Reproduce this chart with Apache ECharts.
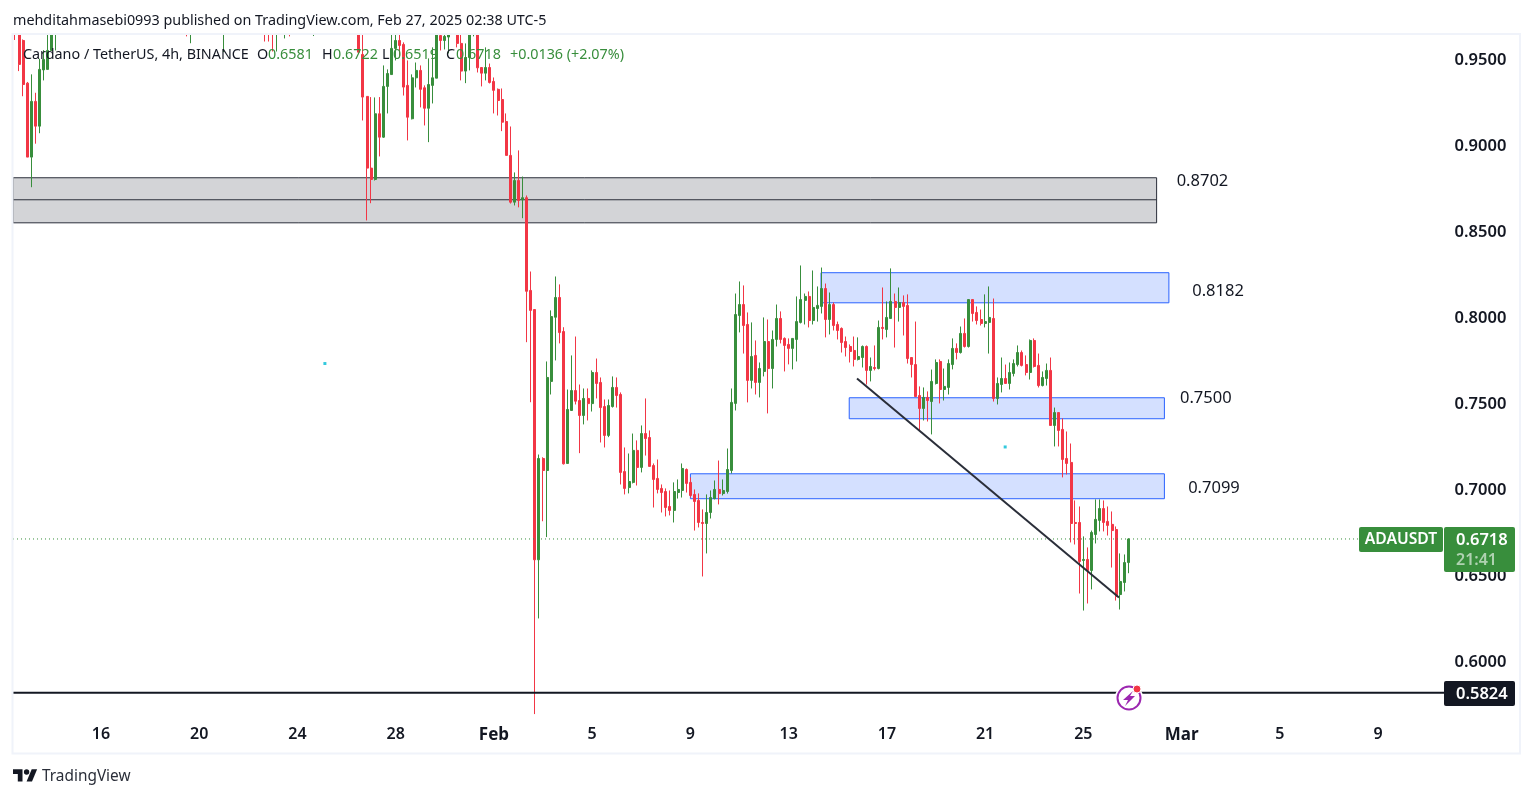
<!DOCTYPE html>
<html>
<head>
<meta charset="utf-8">
<title>ADAUSDT 4h</title>
<script src="https://cdn.jsdelivr.net/npm/echarts@6/dist/echarts.min.js"></script>
<style>
  html, body { margin: 0; padding: 0; background: #fff; }
  #chart { width: 1533px; height: 798px; }
</style>
</head>
<body>
<div id="chart"></div>
<script>
// slots off the top of the price scale are left empty
const gap = n => Array(n).fill(null)

const opens = [
  .98, .97, .9616, .9368, .8938, .9262, .9118, .9445, .9448, .9558, .972, ...gap(31),
  .98, .975, ...gap(7), .985, ...gap(9), .985, .98, .985, .975, ...gap(1), .975, .985, ...gap(5), .975, ...gap(10),
  .98, .9535, .9291, .8874, .8808, .9190, .9054, .9349, .9418, .9570, .9616, .9593, .9355, .9161, .9399, .9442,
  .9341, .9222, .9355, .9397, .9645, .9616, .9636, .97, .97, .9599, .9438, .9517, .9651, .97, .9459, .9426,
  .9459, .9378, .9332, .9273, .9145, .8948, .8676, .8802, .8690, .8702, .8163, .8052, .6597, .7186, .7116, .7634,
  .8007, .8122, .7924, .7157, .7465, .7581, .7523, .7436, .7535, .7505, .7686, .7628, .7488, .7320, .7488, .7599,
  .7558, .7110, .7017, .7047, .7233, .7134, .7331, .7308, .7145, .7070, .7012, .6994, .6907, .6884, .6988, .7000,
  .7122, .7047, .6977, .6942, .6814, .6808, .6872, .6953, .7006, .6982, .6994, .7116, .7506, .8017, .8081, .7965,
  .7640, .7785, .7628, .7692, .7866, .7709, .7878, .8000, .7884, .7849, .7826, .7878, .7977, .8105, .8128, .7988,
  .8058, .8070, .8174, .7994, .8081, .7965, .7942, .7866, .7837, .7814, .7762, .7773, .7837, .7698, .7715, .7709,
  .7948, .7936, .8000, .8099, .8064, .8093, .8076, .7773, .7732, .7552, .7477, .7541, .7517, .7622, .7750, .7587,
  .7599, .7732, .7826, .7802, .7913, .7837, .8110, .8035, .7994, .7971, .7977, .8000, .7535, .7616, .7651, .7622,
  .7680, .7732, .7802, .7732, .7686, .7872, .7727, .7610, .7651, .7698, .7378, .7453, .7355, .7186, .7163, .6814,
  .6814, .6593, .6599, .6535, .6744, .6826, .6895, .6820, .6803, .6773, .6395, .6465, .6581
]
const closes = [
  .97, .9477, .9360, .8938, .9262, .9118, .9448, .9506, .9558, .972, .98, ...gap(31),
  .975, .985, ...gap(7), .99, ...gap(9), .975, .975, .975, .985, ...gap(1), .985, .975, ...gap(5), .985, ...gap(10),
  .9548, .9287, .8874, .8808, .9190, .9054, .9349, .9424, .9570, .9616, .9587, .9345, .9170, .9399, .9442, .9332,
  .9222, .9360, .9399, .9657, .9616, .9640, .9651, .975, .9599, .9438, .9517, .9651, .97, .9457, .9426, .9459,
  .9372, .9326, .9267, .9141, .8948, .8676, .8802, .8686, .8702, .8158, .8047, .6597, .7186, .7116, .7657, .8011,
  .8122, .7918, .7155, .7471, .7581, .7519, .7436, .7535, .7505, .7686, .7622, .7482, .7320, .7494, .7599, .7552,
  .7105, .7012, .7052, .7233, .7134, .7331, .7302, .7140, .7064, .7006, .6988, .6901, .6884, .6994, .7006, .7128,
  .7041, .6971, .6936, .6814, .6808, .6872, .6959, .7006, .6982, .7000, .7122, .7512, .8023, .8081, .7959, .7640,
  .7779, .7628, .7709, .7866, .7709, .7878, .8000, .7878, .7843, .7826, .7884, .7982, .8110, .8128, .7988, .8064,
  .8076, .8174, .7994, .8081, .7959, .7930, .7860, .7831, .7808, .7762, .7779, .7837, .7698, .7721, .7709, .7948,
  .7942, .8006, .8099, .8064, .8093, .8070, .7767, .7732, .7546, .7477, .7541, .7523, .7634, .7744, .7587, .7605,
  .7738, .7826, .7802, .7913, .7837, .8110, .8029, .7988, .7971, .7982, .8006, .7535, .7622, .7651, .7622, .7686,
  .7738, .7802, .7727, .7686, .7872, .7721, .7610, .7657, .7698, .7378, .7453, .7349, .7180, .7157, .6808, .6808,
  .6587, .6599, .6535, .6756, .6832, .6895, .6814, .6797, .6767, .6384, .6471, .6581, .6718
]
const lows = [
  .9619, .9438, .9292, .8938, .8763, .9016, .9077, .9384, .9448, .9558, .9558, ...gap(31),
  .9640, .9600, ...gap(7), .9548, ...gap(9), .9610, .9610, .9552, .9552, ...gap(1), .9628, .9640, ...gap(5), .9642, ...gap(10),
  .9548, .9151, .8570, .8670, .8802, .8942, .9050, .9192, .9418, .95, .9518, .9296, .9035, .9157, .9343, .9227,
  .9122, .9025, .9250, .9397, .9558, .9564, .9541, .966, .9576, .9384, .9368, .9442, .9640, .9430, .9349, .9384,
  .9366, .9192, .9180, .9089, .8948, .8668, .8657, .8646, .8583, .7862, .7513, .5700, .6256, .6821, .6729, .7558,
  .7756, .7855, .7151, .7157, .7465, .7500, .7217, .7384, .7407, .7459, .7535, .7279, .7250, .7310, .7482, .7482,
  .7035, .6977, .6983, .7041, .7029, .7105, .7203, .7140, .6901, .6983, .6872, .6849, .6855, .6814, .6953, .6959,
  .6988, .6959, .6767, .6785, .6500, .6634, .6837, .6948, .6919, .6971, .6982, .7099, .7465, .7919, .7796, .7512,
  .7593, .7558, .7541, .7663, .7448, .7593, .7837, .7855, .7692, .7733, .7704, .7750, .7971, .7965, .7948, .7965,
  .7982, .8029, .7890, .7907, .7930, .7878, .7802, .7779, .7744, .7721, .7756, .7715, .7616, .7634, .7698, .7704,
  .7878, .7890, .8000, .7831, .7982, .7901, .7738, .7657, .7546, .7349, .7407, .7401, .7326, .7616, .7506, .7523,
  .7558, .7704, .7762, .7796, .7831, .7831, .7982, .7965, .7959, .7948, .7796, .7517, .7500, .7570, .7622, .7587,
  .7663, .7721, .7721, .7669, .7645, .7715, .7599, .7605, .7610, .7378, .7256, .7256, .7076, .7093, .6698, .6686,
  .6401, .6302, .6343, .6425, .6692, .6762, .6762, .6738, .6552, .6360, .6308, .6413, .6519
]
const highs = [
  .985, .98, .9622, .9375, .9419, .9312, .951, .956, .966, .98, .985, ...gap(31),
  .985, .99, ...gap(7), .995, ...gap(9), .99, .985, .99, .99, ...gap(1), .99, .99, ...gap(5), .99, ...gap(10),
  .985, .97, .9291, .9287, .9285, .9287, .9471, .9448, .975, .975, .975, .9605, .95, .9419, .9488, .9471,
  .9355, .9512, .9576, .975, .97, .97, .97, .98, .975, .965, .9599, .975, .975, .975, .9459, .9576,
  .9482, .9401, .9337, .9337, .9192, .9116, .8849, .8977, .8825, .8715, .8273, .8052, .7209, .7193, .7750, .8047,
  .8244, .8198, .7949, .7587, .7785, .7895, .7616, .7593, .7593, .7698, .7767, .7657, .7529, .7529, .7663, .7657,
  .7570, .7250, .7215, .7331, .7291, .7378, .7535, .7349, .7157, .7180, .7035, .7012, .7000, .7047, .7064, .7157,
  .7128, .7076, .7006, .6983, .6890, .6977, .7000, .7058, .7174, .7064, .7244, .7593, .8145, .8215, .8192, .8035,
  .7977, .7872, .7744, .8006, .7994, .7930, .8081, .8041, .7890, .7884, .7884, .8128, .8308, .8145, .8157, .8279,
  .8186, .8296, .8203, .8151, .8093, .7982, .7948, .7895, .7849, .7895, .7890, .7843, .7843, .7773, .7843, .7988,
  .8180, .8099, .8291, .8145, .8180, .8134, .8140, .7773, .7982, .7605, .7599, .7576, .7703, .7762, .7762, .7709,
  .7762, .7884, .7855, .7953, .8000, .8110, .8110, .8070, .8052, .8140, .8186, .8116, .7657, .7773, .7732, .7744,
  .7762, .7843, .7814, .7785, .7878, .7884, .7796, .7692, .7738, .7773, .7482, .7453, .7419, .7343, .7273, .6942,
  .6907, .6733, .6669, .6767, .6948, .6948, .6942, .6907, .6878, .6791, .6634, .6628, .6722
]

const slotCount = 350
const tickSlots = [21, 45, 69, 93, 117, 141, 165, 189, 213, 237, 261, 285, 309, 333]
const tickLabels = ['16', '20', '24', '28', 'Feb', '5', '9', '13', '17', '21', '25', 'Mar', '5', '9']
const priceTicks = [0.6, 0.65, 0.7, 0.75, 0.8, 0.85, 0.9, 0.95]

// drawn zones, x in candle slots, y in price
const zoneStarts = [-0.5, 196.9, 203.8, 165]
const zoneEnds = [278.9, 281.9, 280.8, 280.8]
const zoneTops = [0.8818, 0.8266, 0.7539, 0.7097]
const zoneBottoms = [0.8556, 0.8091, 0.7417, 0.6952]
const zoneMiddles = [0.869, null, null, null]

const levelSlots = [283.8, 287.6, 284.6, 286.6]
const levelPrices = [0.8796, 0.8157, 0.7535, 0.7011]
const levelLabels = ['0.8702', '0.8182', '0.7500', '0.7099']

const trendSlots = [205.7, 269.7]
const trendPrices = [0.7651, 0.6378]

const lastPrice = 0.6718
const lastPriceEndSlot = 328.1
const supportPrice = 0.5824
const dotSlots = [75.7, 241.9]
const dotPrices = [0.7738, 0.7253]

// legend line above the candles
const legendParts = ['Cardano / TetherUS, 4h, BINANCE', 'O', '0.6581', 'H', '0.6722', 'L', '0.6519', 'C', '0.6718', '+0.0136 (+2.07%)']
const legendLefts = [23, 257, 268, 322, 333, 382, 393, 446, 456, 510]

const UP = '#388e3c'
const DOWN = '#f23645'
const TEXT = '#131722'
const FONT = '"Noto Sans", sans-serif'

const categories = Array.from({ length: slotCount }, (_, i) => {
  const at = tickSlots.indexOf(i)
  return at >= 0 ? tickLabels[at] : ''
})
const candles = opens.map((o, i) => [o, closes[i], lows[i], highs[i]])

const renderZone = (params, api) => {
  const i = params.dataIndex
  const tl = api.coord([zoneStarts[i], zoneTops[i]])
  const br = api.coord([zoneEnds[i], zoneBottoms[i]])
  const gray = i === 0
  const children = [{
    type: 'rect',
    shape: { x: tl[0], y: tl[1], width: br[0] - tl[0], height: br[1] - tl[1] },
    style: {
      fill: gray ? '#d3d4d7' : '#d4e0ff',
      stroke: gray ? '#2a2e39' : '#2962ff',
      lineWidth: 1
    }
  }]
  if (zoneMiddles[i] != null) {
    const m = api.coord([zoneStarts[i], zoneMiddles[i]])
    children.push({
      type: 'line',
      shape: { x1: tl[0], y1: m[1], x2: br[0], y2: m[1] },
      style: { stroke: '#2a2e39', lineWidth: 1 }
    })
  }
  return { type: 'group', children }
}

const renderLevel = (params, api) => {
  const i = params.dataIndex
  const p = api.coord([levelSlots[i], levelPrices[i]])
  return {
    type: 'text',
    x: p[0],
    y: p[1],
    style: {
      text: levelLabels[i],
      fill: TEXT,
      font: '16.5px ' + FONT,
      textAlign: 'left',
      textVerticalAlign: 'middle'
    }
  }
}

const tagText = (text, x, y, size, fill, align) => ({
  type: 'text',
  z: 30,
  x,
  y,
  style: {
    text,
    fill,
    font: '600 ' + size + 'px ' + FONT,
    textAlign: align || 'center',
    textVerticalAlign: 'middle'
  }
})
const tagBox = (x, y, width, height, fill) => ({
  type: 'rect',
  z: 29,
  shape: { x, y, width, height, r: 2 },
  style: { fill }
})

const option = {
  animation: false,
  backgroundColor: '#fff',
  textStyle: { fontFamily: FONT },
  grid: { left: 13, top: 35.5, width: 1432.6, height: 681, containLabel: false },
  xAxis: [
    {
      type: 'category',
      data: categories,
      boundaryGap: true,
      axisLine: { show: false },
      axisTick: { show: false },
      splitLine: { show: false },
      axisLabel: {
        interval: 0,
        margin: 10,
        hideOverlap: false,
        color: TEXT,
        fontSize: 16,
        fontWeight: 600,
        fontFamily: FONT,
        formatter: v => (v === 'Feb' || v === 'Mar' ? '{b|' + v + '}' : v),
        rich: { b: { fontSize: 17, fontWeight: 700, color: TEXT, fontFamily: FONT } }
      }
    },
    { type: 'value', min: -0.5, max: slotCount - 0.5, show: false }
  ],
  yAxis: {
    type: 'value',
    position: 'right',
    min: 0.5686,
    max: 0.9645,
    scale: true,
    axisLine: { show: false },
    axisTick: { show: false },
    splitLine: { show: false },
    axisLabel: {
      customValues: priceTicks,
      margin: 9,
      padding: [2, 0, 0, 0],
      color: TEXT,
      fontSize: 16.5,
      fontWeight: 600,
      fontFamily: FONT,
      formatter: v => v.toFixed(4)
    }
  },
  series: [
    {
      type: 'custom',
      name: 'zones',
      xAxisIndex: 1,
      z: 1,
      silent: true,
      renderItem: renderZone,
      data: zoneStarts.map((s, i) => [s, zoneTops[i]]),
      clip: false
    },
    {
      type: 'candlestick',
      name: 'ADAUSDT',
      xAxisIndex: 0,
      z: 2,
      // edges get snapped to half pixels, 2.5 keeps every body the same width
      barWidth: 2.5,
      silent: true,
      itemStyle: {
        color: UP,
        color0: DOWN,
        borderColor: UP,
        borderColor0: DOWN,
        borderWidth: 1
      },
      data: candles
    },
    {
      type: 'line',
      name: 'last price',
      xAxisIndex: 1,
      z: 3,
      silent: true,
      showSymbol: false,
      lineStyle: { color: UP, width: 1, type: [1, 3] },
      data: [[-0.5, lastPrice], [lastPriceEndSlot, lastPrice]]
    },
    {
      type: 'line',
      name: 'support',
      xAxisIndex: 1,
      z: 3,
      silent: true,
      showSymbol: false,
      lineStyle: { color: TEXT, width: 2 },
      data: [[-0.5, supportPrice], [slotCount - 0.5, supportPrice]]
    },
    {
      type: 'line',
      name: 'trend',
      xAxisIndex: 1,
      z: 4,
      silent: true,
      showSymbol: false,
      lineStyle: { color: '#2a2e39', width: 2 },
      data: trendSlots.map((s, i) => [s, trendPrices[i]])
    },
    {
      type: 'scatter',
      name: 'dots',
      xAxisIndex: 1,
      z: 4,
      silent: true,
      symbol: 'rect',
      symbolSize: 3,
      itemStyle: { color: '#00bcd4' },
      data: dotSlots.map((s, i) => [s, dotPrices[i]])
    },
    {
      type: 'custom',
      name: 'levels',
      xAxisIndex: 1,
      z: 5,
      silent: true,
      renderItem: renderLevel,
      data: levelSlots.map((s, i) => [s, levelPrices[i]]),
      clip: false
    }
  ],
  graphic: [
    // candles running off the top of the scale stop at the panel edge
    { type: 'rect', z: 25, shape: { x: 0, y: 0, width: 1533, height: 34 }, style: { fill: '#fff' } },
    {
      type: 'rect',
      z: 26,
      shape: { x: 12.5, y: 34, width: 1507.5, height: 719.5 },
      style: { fill: 'none', stroke: '#f0f3fa', lineWidth: 2 }
    },
    {
      type: 'text',
      z: 30,
      x: 13,
      y: 20.5,
      style: {
        text: 'mehditahmasebi0993 published on TradingView.com, Feb 27, 2025 02:38 UTC-5',
        fill: TEXT,
        font: '14.35px ' + FONT,
        textVerticalAlign: 'middle'
      }
    },
    ...legendParts.map((text, i) => ({
      type: 'text',
      z: 30,
      x: legendLefts[i],
      y: 55,
      style: {
        text,
        fill: i === 0 || i % 2 === 1 && i < 9 ? TEXT : UP,
        font: '14.35px ' + FONT,
        textVerticalAlign: 'middle'
      }
    })),
    tagBox(1359, 527, 84, 25, UP),
    tagText('ADAUSDT', 1401, 540, 15.7, '#fff'),
    tagBox(1444, 527, 71, 45, UP),
    tagText('0.6718', 1456, 540, 16.5, '#fff', 'left'),
    tagText('21:41', 1456, 560.5, 16, 'rgba(255,255,255,0.6)', 'left'),
    tagBox(1444, 681, 71, 25, TEXT),
    tagText('0.5824', 1456, 694, 16.5, '#fff', 'left'),
    // alert icon on the support line
    { type: 'circle', z: 20, shape: { cx: 1129, cy: 698, r: 14 }, style: { fill: '#fff' } },
    { type: 'circle', z: 21, shape: { cx: 1129, cy: 698, r: 11.5 }, style: { fill: '#fff', stroke: '#9c27b0', lineWidth: 2 } },
    {
      type: 'polygon',
      z: 22,
      shape: { points: [[1133, 691], [1123, 700], [1128, 700], [1125, 706], [1135, 696], [1130, 696]] },
      style: { fill: '#9c27b0' }
    },
    { type: 'circle', z: 23, shape: { cx: 1137, cy: 689, r: 4 }, style: { fill: '#f23645', stroke: '#fff', lineWidth: 1 } },
    // TradingView logo
    {
      type: 'polygon',
      z: 30,
      shape: { points: [[13, 769.3], [22.5, 769.3], [22.5, 781.5], [17.8, 781.5], [17.8, 774.1], [13, 774.1]] },
      style: { fill: TEXT }
    },
    {
      type: 'polygon',
      z: 30,
      shape: { points: [[26.6, 781.5], [32, 781.5], [37.1, 769.3], [31.7, 769.3]] },
      style: { fill: TEXT }
    },
    { type: 'circle', z: 30, shape: { cx: 26.6, cy: 772, r: 2.7 }, style: { fill: TEXT } },
    {
      type: 'text',
      z: 30,
      x: 42,
      y: 777,
      style: { text: 'TradingView', fill: '#2a2e39', font: '15.4px ' + FONT, textVerticalAlign: 'middle' }
    }
  ]
}

const chart = echarts.init(document.getElementById('chart'))
chart.setOption(option)

window.addEventListener('resize', () => {
  chart.resize()
})
</script>
</body>
</html>
